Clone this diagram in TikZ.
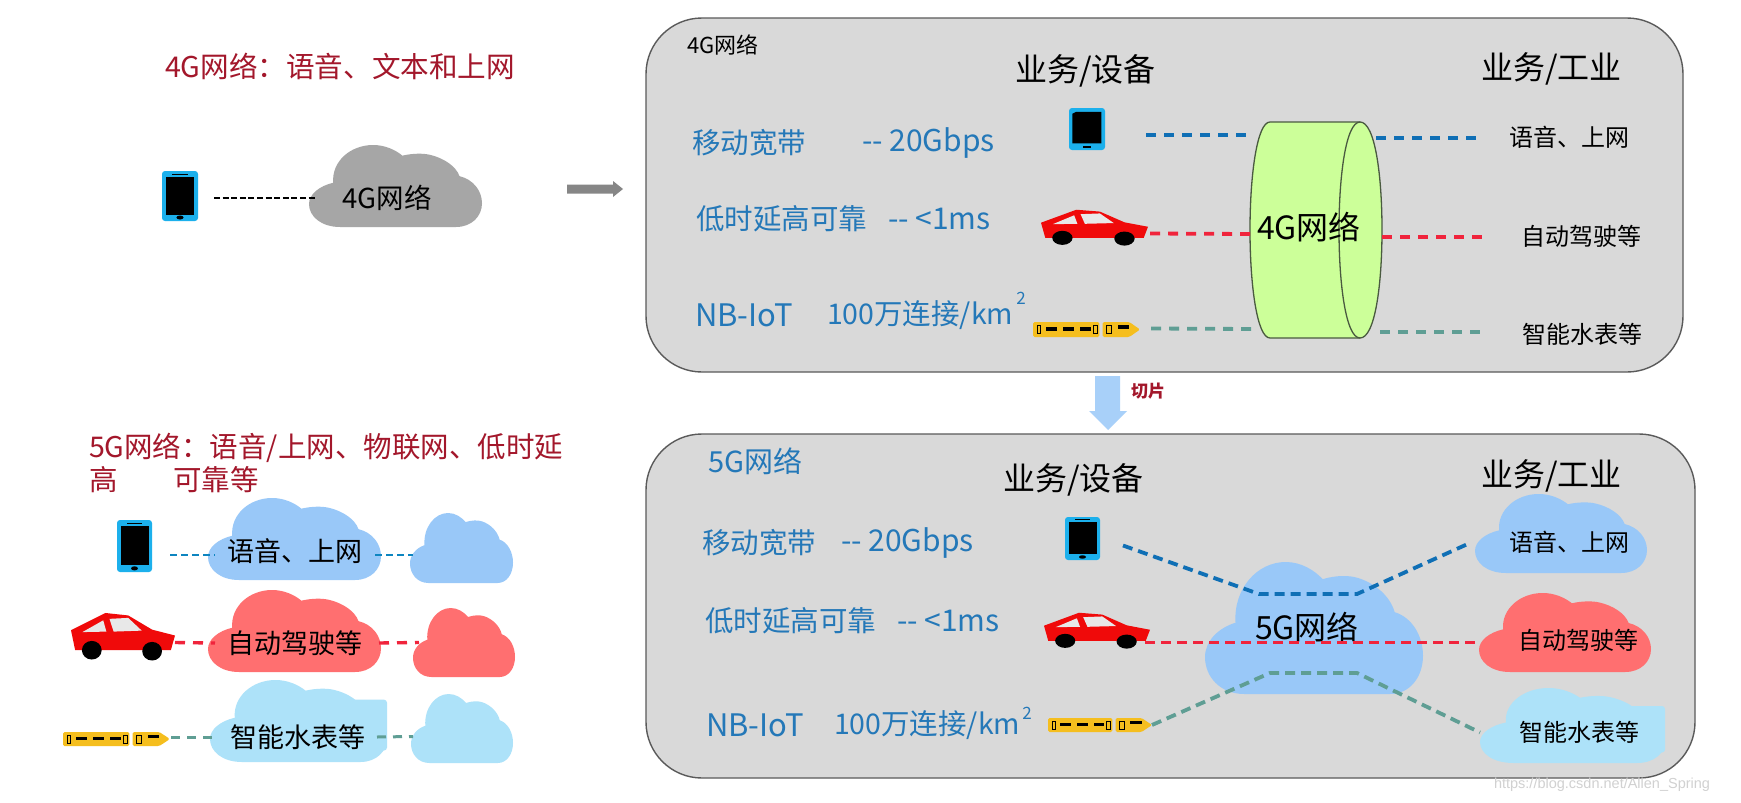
\documentclass[tikz,border=0pt]{standalone}
\usepackage{fontspec}
\setmainfont{Noto Sans CJK SC}
\newfontfamily\wmfont{Liberation Sans}
\definecolor{boxgray}{HTML}{D9D9D9}
\definecolor{boxline}{HTML}{5A5A5A}
\definecolor{titlered}{HTML}{A3172B}
\definecolor{txtblue}{HTML}{2478B8}
\definecolor{lnblue}{HTML}{0F6FB5}
\definecolor{lnred}{HTML}{F0243C}
\definecolor{lnteal}{HTML}{5F9E94}
\definecolor{cblue}{HTML}{99C8F8}
\definecolor{cred}{HTML}{FF6F70}
\definecolor{clight}{HTML}{ADE2F9}
\definecolor{cgray}{HTML}{A6A6A6}
\definecolor{cyl}{HTML}{CCFF99}
\definecolor{cylline}{HTML}{4A5A40}
\definecolor{phonecy}{HTML}{1CB0EC}
\definecolor{trainy}{HTML}{F5BE1E}
\definecolor{carred}{HTML}{F00A0A}
\newcommand\fsz[1]{\fontsize{#1}{#1}\selectfont}
\tikzset{
  holder/.style={inner sep=0pt,outer sep=0pt},
  lab/.style={inner sep=0pt,outer sep=0pt,anchor=west,text=black},
  ctr/.style={inner sep=0pt,outer sep=0pt,anchor=center,text=black},
  conn/.style={dash pattern=on 10pt off 8pt,line width=3.8pt},
  thinconn/.style={dash pattern=on 7pt off 4pt,line width=2.4pt},
  panel/.style={fill=boxgray,draw=boxline,line width=1.4pt,rounded corners=56pt},
}
\newcommand\placed[6]{%
  \pgfmathsetmacro\mycx{#2+#4/2}\pgfmathsetmacro\mycy{#3+#5/2}%
  \node[holder,minimum width=#4pt,minimum height=#5pt] (#1) at (\mycx,\mycy) {};%
  \begin{scope}[shift={(#2,#3)},xscale=#4/100,yscale=#5/100]#6\end{scope}}
\newcommand\cloudpath{(18,100) .. controls (7,100) and (0,87) .. (0,72) .. controls (0,60) and (6,50) .. (14,46) .. controls (13,20) and (24,0) .. (37,0) .. controls (44,0) and (50,6) .. (54,13) .. controls (60,10) and (66,10) .. (70,12) .. controls (78,16) and (85,26) .. (87,38) .. controls (95,42) and (100,56) .. (100,71) .. controls (100,87) and (94,100) .. (85,100) -- cycle}
\newcommand\cloudn[6]{\placed{#1}{#2}{#3}{#4}{#5}{\fill[#6] \cloudpath;}}
\newcommand\wcloud[6]{\placed{#1}{#2}{#3}{#4}{#5}{\fill[#6] \cloudpath; \fill[#6,rounded corners=3pt] (70,24) rectangle (100,86);}}
\newcommand\phonei[5]{\placed{#1}{#2}{#3}{#4}{#5}{%
  \fill[phonecy,rounded corners=3pt] (0,0) rectangle (100,100);
  \fill[black] (10,12) rectangle (90,87);
  \fill[black] (50,93) ellipse (10 and 4);
  \fill[black] (28,5) rectangle (72,7);}}
\newcommand\tableti[5]{\placed{#1}{#2}{#3}{#4}{#5}{%
  \fill[phonecy,rounded corners=3pt] (0,0) rectangle (100,100);
  \fill[black] (9,14) -- (20,9) -- (90,9) -- (90,84) -- (9,84) -- cycle;
  \fill[black] (38,90) rectangle (62,95);}}
\newcommand\cari[5]{\placed{#1}{#2}{#3}{#4}{#5}{%
  \fill[carred] (0,37) -- (33,2) -- (55,7) -- (78,36) -- (100,48) -- (96,78) -- (4,78) -- cycle;
  \fill[boxgray!60!white] (11,41) -- (31,17) -- (34,40) -- cycle;
  \fill[boxgray!60!white] (37,14) -- (55,12) -- (68,38) -- (41,40) -- cycle;
  \fill[black] (20,78) ellipse (9.5 and 19);
  \fill[black] (78,80) ellipse (9.5 and 19);}}
\newcommand\traini[5]{\placed{#1}{#2}{#3}{#4}{#5}{%
  \fill[trainy,rounded corners=1.5pt] (0,0) rectangle (62,100);
  \fill[trainy,rounded corners=1.5pt] (65,0) -- (90,0) -- (100,50) -- (90,100) -- (65,100) -- cycle;
  \draw[black,line width=.8pt] (4,22) rectangle (7,78);
  \fill[black] (12,35) rectangle (22,60);
  \fill[black] (28,35) rectangle (38,60);
  \fill[black] (44,35) rectangle (54,60);
  \draw[black,line width=.8pt] (56,22) rectangle (60,78);
  \draw[black,line width=.8pt] (69,22) rectangle (73,78);
  \fill[black] (79,20) rectangle (90,45);}}
\begin{document}
\begin{tikzpicture}[x=1pt,y=-1pt]
\useasboundingbox (0,0) rectangle (1741,803);
\fill[white] (0,0) rectangle (1741,803);
% left: 4G
\node[lab,text=titlered] (title4g) at (165,66) {\fsz{28.6}4G网络：语音、文本和上网};
\phonei{phA}{162}{171}{36}{50}
\cloudn{cloudA}{309}{145}{173}{82}{cgray}
\node[ctr] (cloudAtxt) at (387,198) {\fsz{27.5}4G网络};
\draw[black,dash pattern=on 6pt off 2.6pt,line width=2.2pt] ([shift={(16,2)}]phA.east) -- ([shift={(8,12)}]cloudA.west);
\fill[gray!95] (567,184.5) -- (613,184.5) -- (613,181) -- (623,189) -- (613,197) -- (613,193.5) -- (567,193.5) -- cycle;
% left: 5G
\node[lab,text=titlered] (title5ga) at (89,448) {\fsz{28.5}5G网络：语音/上网、物联网、低时延};
\node[lab,text=titlered] (title5gb) at (89,480) {\fsz{28.5}高};
\node[lab,text=titlered] (title5gc) at (173,480) {\fsz{28.5}可靠等};
\cloudn{cloudB}{208}{498}{173}{82}{cblue}
\cloudn{cloudBr}{410}{513}{103}{70}{cblue}
\cloudn{cloudC}{208}{590}{173}{82}{cred}
\cloudn{cloudCr}{413}{608}{102}{69}{cred}
\wcloud{cloudD}{210}{680}{177}{82}{clight}
\cloudn{cloudDr}{411}{694}{102}{69}{clight}
\phonei{phB}{117}{520}{35}{52}
\cari{carB}{71}{612}{104}{49}
\traini{trB}{63}{732}{107}{14}
\draw[lnblue!85!cyan,thinconn] ([shift={(18,9)}]phB.east) -- ([shift={(7,16)}]cloudB.west);
\draw[lnblue!85!cyan,thinconn] ([shift={(-6,16)}]cloudB.east) -- ([shift={(3,7)}]cloudBr.west);
\draw[lnred,conn,line width=3.4pt] ([shift={(0,6)}]carB.east) -- ([shift={(7,12)}]cloudC.west);
\draw[lnred,conn,line width=3.4pt] ([shift={(-2,12)}]cloudC.east) -- ([shift={(6,0)}]cloudCr.west);
\draw[lnteal,thinconn,dash pattern=on 9pt off 7pt,line width=3pt] ([shift={(1,-2)}]trB.east) -- ([shift={(5,16)}]cloudD.west);
\draw[lnteal,thinconn,dash pattern=on 9pt off 7pt,line width=3pt] ([shift={(-10,16)}]cloudD.east) -- ([shift={(2,8)}]cloudDr.west);
\node[ctr] (cloudBtxt) at (294.5,551) {\fsz{27}语音、上网};
\node[ctr] (cloudCtxt) at (294.5,643) {\fsz{27}自动驾驶等};
\node[ctr] (cloudDtxt) at (298,737) {\fsz{27}智能水表等};
% panel 4G
\node[panel,minimum width=1037pt,minimum height=354pt,inner sep=0pt,outer sep=0pt] (panelA) at (1164.5,195) {};
\node[lab] (pAname) at (687,45) {\fsz{22}4G网络};
\node[lab] (pAdev) at (1015,71) {\fsz{32}业务/设备};
\node[lab] (pAind) at (1481,69) {\fsz{32}业务/工业};
\node[lab,text=txtblue] (a1) at (692,143) {\fsz{28.5}移动宽带};
\node[lab,text=txtblue] (a1b) at (862,143) {\fsz{30}-{}- 20Gbps};
\node[lab,text=txtblue] (a2) at (696,219) {\fsz{28.5}低时延高可靠};
\node[lab,text=txtblue] (a2b) at (888,219) {\fsz{30}-{}- <1ms};
\node[lab,text=txtblue] (a3) at (695,315) {\fsz{31}NB-IoT};
\node[lab,text=txtblue] (a3b) at (827,315) {\fsz{28.5}100万连接/km};
\node[ctr,text=txtblue] (a3c) at (1021,298) {\fsz{17}2};
\tableti{tabA}{1069}{108}{36}{42}
\cari{carA}{1041}{209}{107}{37}
\traini{trA}{1033}{322}{107}{15}
\node[holder,minimum width=132pt,minimum height=216pt] (cylA) at (1316,230) {};
\draw[cylline,fill=cyl,line width=1.3pt] (1270,122) -- (1360,122) .. controls (1375,122) and (1382,175) .. (1382,230) .. controls (1382,285) and (1375,338) .. (1360,338) -- (1270,338) .. controls (1257,338) and (1250,285) .. (1250,230) .. controls (1250,175) and (1257,122) .. (1270,122) -- cycle;
\draw[cylline,line width=1.3pt] (1360,122) .. controls (1346,122) and (1339,175) .. (1339,230) .. controls (1339,285) and (1346,338) .. (1360,338);
\node[ctr] (cylAtxt) at (1309,227) {\fsz{32}4G网络};
\draw[lnblue,conn] ([shift={(41,6)}]tabA.east) -- ([shift={(-1,-95)}]cylA.west);
\draw[lnblue,conn] ([shift={(-6,-92)}]cylA.east) -- ([shift={(96,-92)}]cylA.east);
\draw[lnred,conn] ([shift={(2,6)}]carA.east) -- ([shift={(0,4)}]cylA.west);
\draw[lnred,conn] ([shift={(0,7)}]cylA.east) -- ([shift={(100,7)}]cylA.east);
\draw[lnteal,conn] ([shift={(11,-1)}]trA.east) -- ([shift={(3,99)}]cylA.west);
\draw[lnteal,conn] ([shift={(-2,102)}]cylA.east) -- ([shift={(100,102)}]cylA.east);
\node[ctr] (rA1) at (1569.5,137) {\fsz{24}语音、上网};
\node[ctr] (rA2) at (1581,236) {\fsz{24}自动驾驶等};
\node[ctr] (rA3) at (1582,334) {\fsz{24}智能水表等};
% slice arrow
\fill[cblue!85!white] (1095,376) -- (1120,376) -- (1120,411) -- (1127,411) -- (1108,430) -- (1089,411) -- (1095,411) -- cycle;
\node[lab,text=titlered] (slice) at (1131,391) {\fsz{17}\textbf{切片}};
% panel 5G
\node[panel,minimum width=1049pt,minimum height=344pt,inner sep=0pt,outer sep=0pt] (panelB) at (1170.5,606) {};
\node[lab,text=txtblue] (pBname) at (708,461) {\fsz{29}5G网络};
\node[lab] (pBdev) at (1003,480) {\fsz{32}业务/设备};
\node[lab] (pBind) at (1481,476) {\fsz{32}业务/工业};
\node[lab,text=txtblue] (b1) at (702,543) {\fsz{28.5}移动宽带};
\node[lab,text=txtblue] (b1b) at (841,543) {\fsz{30}-{}- 20Gbps};
\node[lab,text=txtblue] (b2) at (705,621) {\fsz{28.5}低时延高可靠};
\node[lab,text=txtblue] (b2b) at (897,621) {\fsz{30}-{}- <1ms};
\node[lab,text=txtblue] (b3) at (706,725) {\fsz{31}NB-IoT};
\node[lab,text=txtblue] (b3b) at (834,725) {\fsz{28.5}100万连接/km};
\node[ctr,text=txtblue] (b3c) at (1027,713) {\fsz{17}2};
\cloudn{cloudE}{1205}{562}{218}{132}{cblue}
\cloudn{cloudF}{1475}{494}{172}{79}{cblue}
\cloudn{cloudG}{1479}{593}{172}{79}{cred}
\wcloud{cloudH}{1480}{688}{185}{75}{clight}
\phonei{phC}{1065}{517}{35}{43}
\cari{carC}{1044}{612}{106}{37}
\traini{trC}{1048}{718}{104}{14}
\node[ctr] (cloudEtxt) at (1307,627) {\fsz{32}5G网络};
\draw[lnblue,conn,dash pattern=on 10pt off 6pt] ([shift={(23,7)}]phC.east) -- ([shift={(54,-34)}]cloudE.west) -- ([shift={(-66,-34)}]cloudE.east) -- ([shift={(-4,9)}]cloudF.west);
\draw[lnred,conn,dash pattern=on 10pt off 6pt] ([shift={(-5,12)}]carC.east) -- ([shift={(1,10)}]cloudG.west);
\draw[lnteal,conn,dash pattern=on 10pt off 6pt] (trC.east) -- ([shift={(65,45)}]cloudE.west) -- ([shift={(-66,45)}]cloudE.east) -- ([shift={(0,7)}]cloudH.west);
\node[ctr] (cloudFtxt) at (1569,542) {\fsz{24}语音、上网};
\node[ctr] (cloudGtxt) at (1578,640) {\fsz{24}自动驾驶等};
\node[ctr] (cloudHtxt) at (1579.5,732) {\fsz{24}智能水表等};
% watermark
\node[lab,text=black!18] (wm) at (1494,785) {\wmfont\fsz{14.5}https://blog.csdn.net/Allen\_Spring};
\end{tikzpicture}
\end{document}
